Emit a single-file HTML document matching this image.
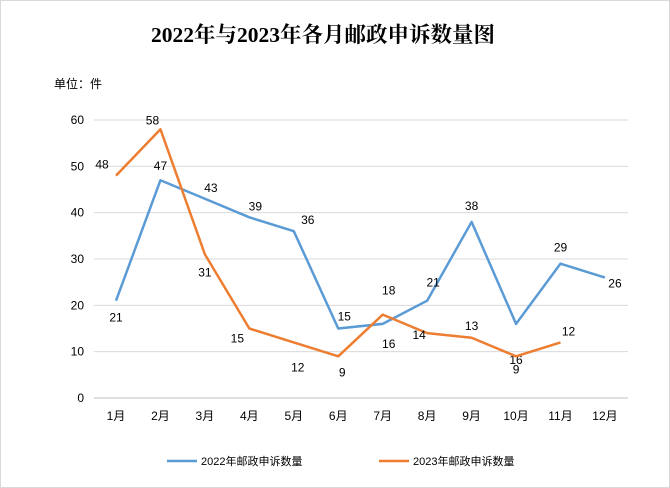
<!DOCTYPE html>
<html><head><meta charset="utf-8"><style>
body{margin:0;background:#fff;}
#wrap{width:668px;height:486px;border:1px solid #d9d9d9;position:relative;overflow:hidden;font-family:"Liberation Sans","Noto Sans CJK SC",sans-serif;}
</style></head><body>
<div id="wrap">
<svg id="chart" width="670" height="488"></svg>
</div>
<script>
const categories=["1月","2月","3月","4月","5月","6月","7月","8月","9月","10月","11月","12月"];
const series2022=[21,47,43,39,36,15,16,21,38,16,29,26];
const series2023=[48,58,31,15,12,9,18,14,13,9,12];
const yTicks=[0,10,20,30,40,50,60];
const labelPos2022=[[0,21],[0,-10],[6,-7],[6,-7],[14,-7],[6,-8],[6,24],[6,-14],[0,-12],[0,40],[0,-12],[10,10]];
const labelPos2023=[[-14,-7],[-8,-5],[0,22],[-12,14],[4,29],[4,20],[6,-20],[-8,6],[0,-8],[0,17],[8,-7]];
const NS="http://www.w3.org/2000/svg";
const svg=document.getElementById('chart');
const x0=115,dx=44.45,yBase=397,yTop=119,yMax=60;
function xs(i){return x0+i*dx;}
function ys(v){return yBase-(v/yMax)*(yBase-yTop);}
function mk(t,a,txt){const e=document.createElementNS(NS,t);for(const k in a)e.setAttribute(k,a[k]);if(txt!==undefined)e.textContent=txt;svg.appendChild(e);return e;}
let e;
e=mk('text',{x:322,y:41,'text-anchor':'middle','font-size':21.5,'font-weight':'bold','font-family':'"Liberation Serif","Noto Serif CJK SC",serif',fill:'#000'},'2022年与2023年各月邮政申诉数量图');


e=mk('text',{x:53,y:87,'font-size':12,fill:'#000'},'单位：件');


yTicks.forEach(v=>{
  const g=mk('line',{x1:93,x2:627,y1:ys(v),y2:ys(v),stroke:v===0?'#bfbfbf':'#d9d9d9','stroke-width':1});
  
  
  const t=mk('text',{x:83,y:ys(v)+4,'text-anchor':'end','font-size':12,fill:'#000'},v);
  
  
});
categories.forEach((c,i)=>{
  const t=mk('text',{x:xs(i),y:419,'text-anchor':'middle','font-size':12,fill:'#000'},c);
  
  
});
function drawSeries(data,color,lp,name){
  const p=mk('polyline',{points:data.map((v,i)=>xs(i)+','+ys(v)).join(' '),fill:'none',stroke:color,'stroke-width':2.5,'stroke-linejoin':'round'});
  
  
  data.forEach((v,i)=>{
    const t=mk('text',{x:xs(i)+lp[i][0],y:ys(v)+lp[i][1],'text-anchor':'middle','font-size':12,fill:'#000'},v);
    
    
  });
}
drawSeries(series2022,'#5b9bd5',labelPos2022,'series-2022');
drawSeries(series2023,'#ed7d31',labelPos2023,'series-2023');
e=mk('line',{x1:166,x2:196,y1:460,y2:460,stroke:'#5b9bd5','stroke-width':2.5});


e=mk('text',{x:200,y:464,'font-size':11,fill:'#000'},'2022年邮政申诉数量');


e=mk('line',{x1:378,x2:408,y1:460,y2:460,stroke:'#ed7d31','stroke-width':2.5});


e=mk('text',{x:412,y:464,'font-size':11,fill:'#000'},'2023年邮政申诉数量');


</script>
</body></html>
